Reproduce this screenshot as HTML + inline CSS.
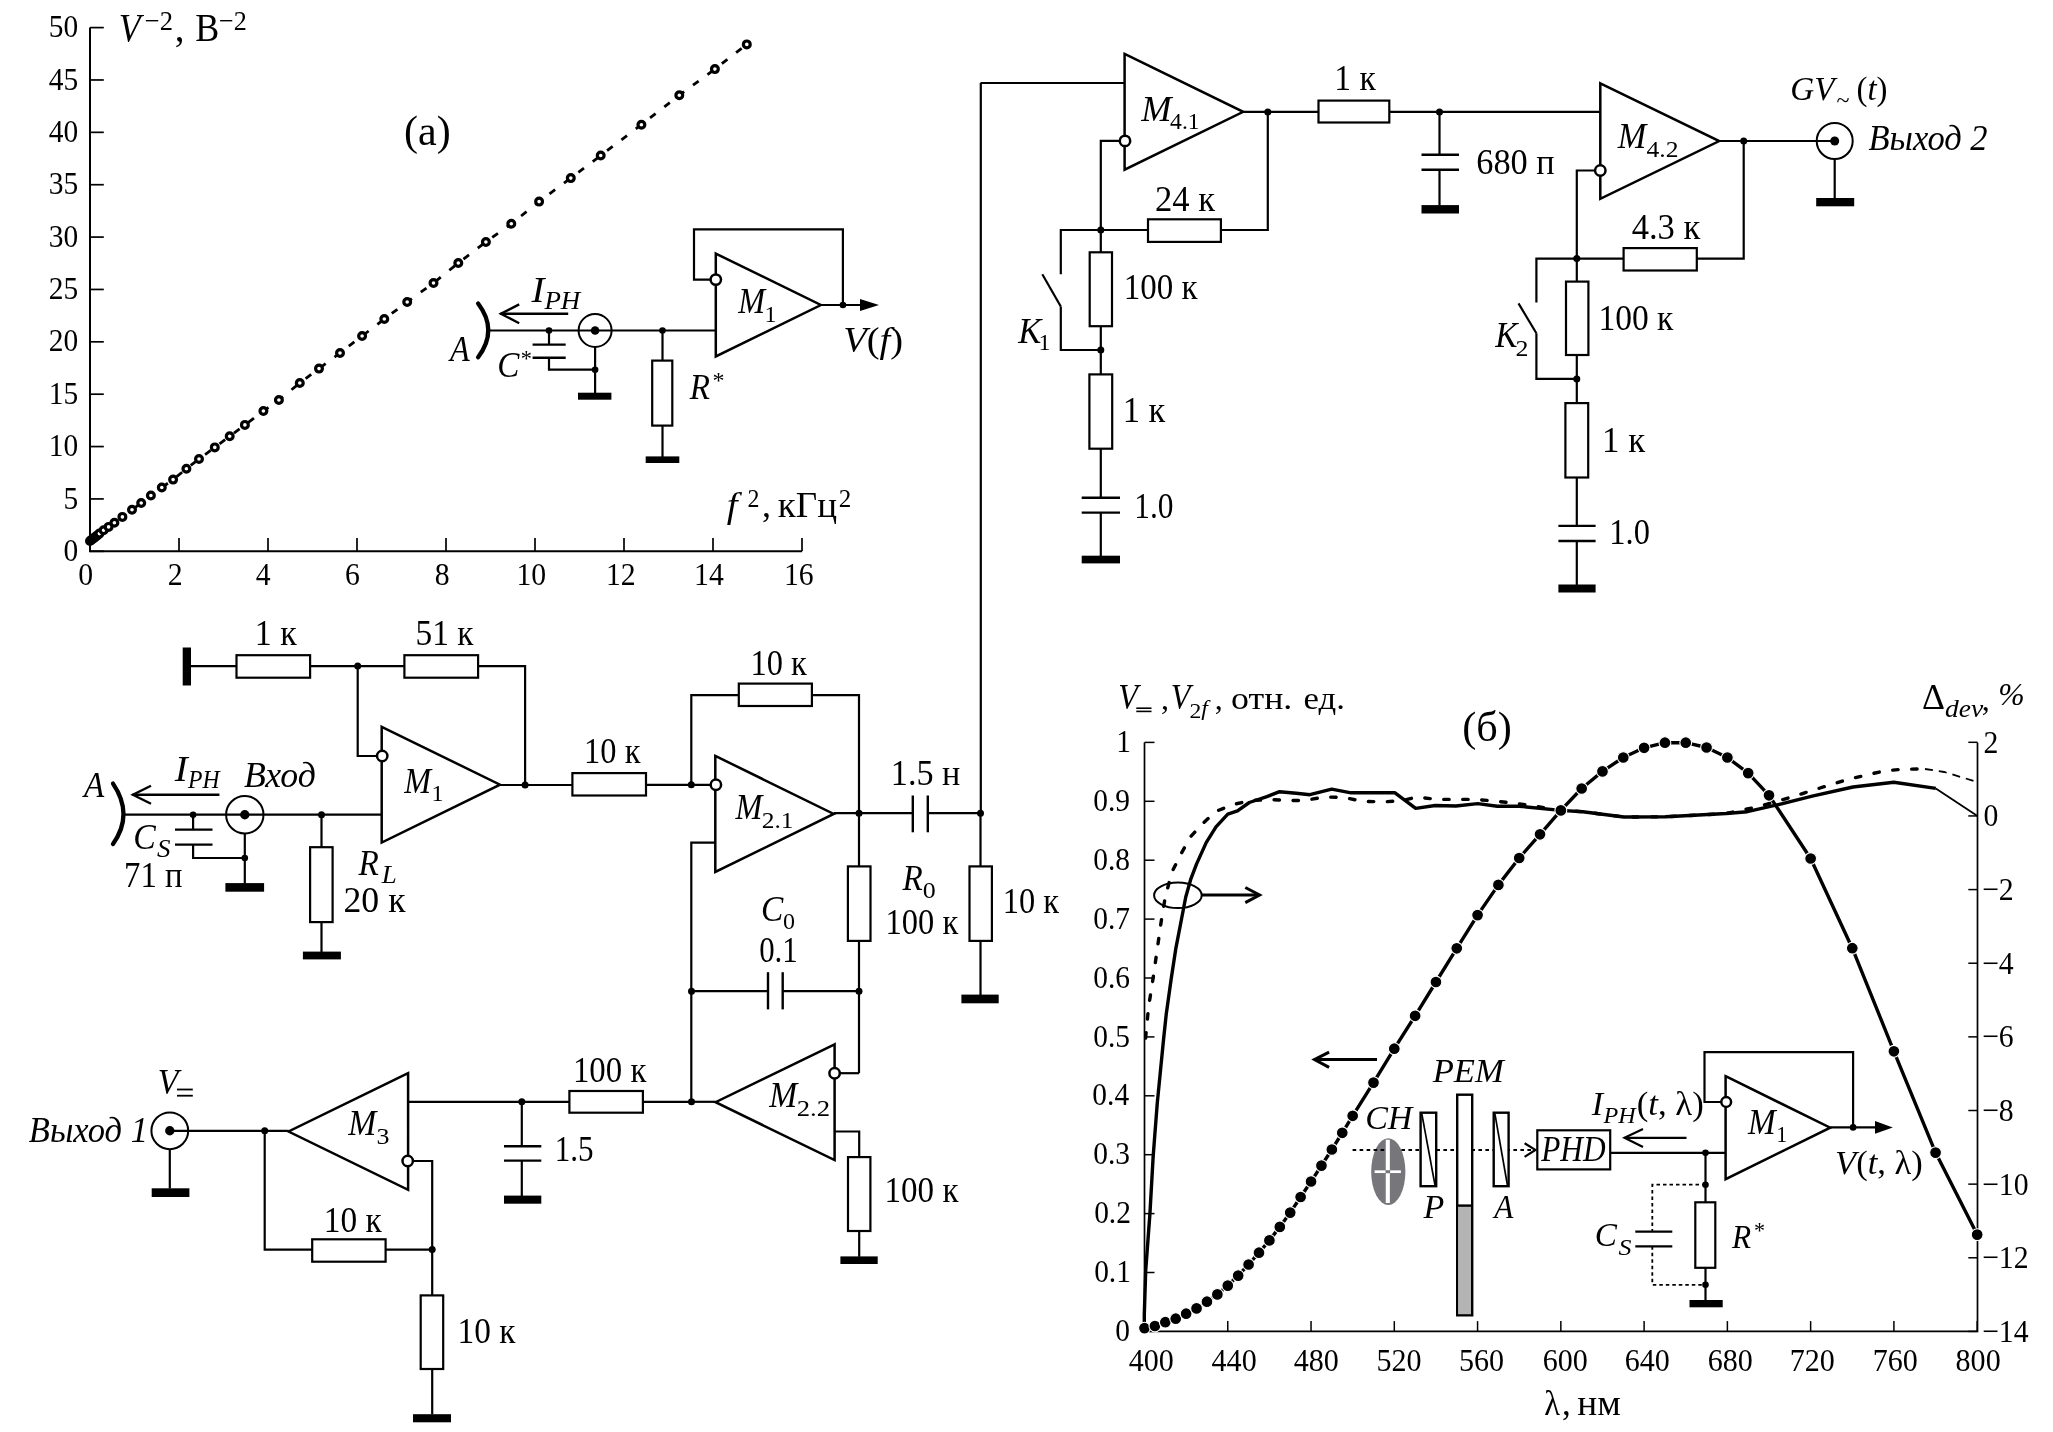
<!DOCTYPE html>
<html><head><meta charset="utf-8"><style>
html,body{margin:0;padding:0;background:#fff;}
svg{display:block;}
svg{will-change:transform;}
</style></head><body>
<svg width="2053" height="1432" viewBox="0 0 2053 1432">
<rect width="2053" height="1432" fill="#fff"/>
<g stroke="#000" stroke-linecap="butt" fill="none">
<polyline points="90,27.6 90,551.3 802,551.3" stroke-width="2.0" />
<line x1="90" y1="551.3" x2="103.8" y2="551.3" stroke-width="1.7" />
<line x1="90" y1="498.93" x2="103.8" y2="498.93" stroke-width="1.7" />
<line x1="90" y1="446.56" x2="103.8" y2="446.56" stroke-width="1.7" />
<line x1="90" y1="394.19" x2="103.8" y2="394.19" stroke-width="1.7" />
<line x1="90" y1="341.82" x2="103.8" y2="341.82" stroke-width="1.7" />
<line x1="90" y1="289.45" x2="103.8" y2="289.45" stroke-width="1.7" />
<line x1="90" y1="237.08" x2="103.8" y2="237.08" stroke-width="1.7" />
<line x1="90" y1="184.71" x2="103.8" y2="184.71" stroke-width="1.7" />
<line x1="90" y1="132.34" x2="103.8" y2="132.34" stroke-width="1.7" />
<line x1="90" y1="79.97" x2="103.8" y2="79.97" stroke-width="1.7" />
<line x1="90" y1="27.6" x2="103.8" y2="27.6" stroke-width="1.7" />
<line x1="90" y1="551.3" x2="90" y2="538" stroke-width="1.7" />
<line x1="179" y1="551.3" x2="179" y2="538" stroke-width="1.7" />
<line x1="268" y1="551.3" x2="268" y2="538" stroke-width="1.7" />
<line x1="357" y1="551.3" x2="357" y2="538" stroke-width="1.7" />
<line x1="446" y1="551.3" x2="446" y2="538" stroke-width="1.7" />
<line x1="535" y1="551.3" x2="535" y2="538" stroke-width="1.7" />
<line x1="624" y1="551.3" x2="624" y2="538" stroke-width="1.7" />
<line x1="713" y1="551.3" x2="713" y2="538" stroke-width="1.7" />
<line x1="802" y1="551.3" x2="802" y2="538" stroke-width="1.7" />
<polyline points="90,541 91.3,540 92.6,539 94,538 95.5,536.8 97.3,535.4 99.4,533.6 103.6,530.3 108.6,526.9 114.4,522.7 122.4,516.9 132,509.7 141.2,503 150.9,495.5 161.8,487.5 173.1,479.6 186.4,468.7 199,459 214.8,447.4 229.7,436.2 244.9,424.9 263.4,411 278.9,400 299.8,383 319,368.6 340,353 362.1,336 384.3,319 407.2,302 433.5,283 458.3,263 485.9,242 511.3,223.8 539.1,201.6 570.8,178.1 600.7,155.5 641.4,124.7 679.3,95.3 714.9,69.1 746.8,44.4" stroke-width="2.8" stroke-dasharray="7 11"/>
<circle cx="90" cy="541" r="3.4" stroke-width="3.2" fill="#fff"/>
<circle cx="91.3" cy="540" r="3.4" stroke-width="3.2" fill="#fff"/>
<circle cx="92.6" cy="539" r="3.4" stroke-width="3.2" fill="#fff"/>
<circle cx="94" cy="538" r="3.4" stroke-width="3.2" fill="#fff"/>
<circle cx="95.5" cy="536.8" r="3.4" stroke-width="3.2" fill="#fff"/>
<circle cx="97.3" cy="535.4" r="3.4" stroke-width="3.2" fill="#fff"/>
<circle cx="99.4" cy="533.6" r="3.4" stroke-width="3.2" fill="#fff"/>
<circle cx="103.6" cy="530.3" r="3.4" stroke-width="3.2" fill="#fff"/>
<circle cx="108.6" cy="526.9" r="3.4" stroke-width="3.2" fill="#fff"/>
<circle cx="114.4" cy="522.7" r="3.4" stroke-width="3.2" fill="#fff"/>
<circle cx="122.4" cy="516.9" r="3.4" stroke-width="3.2" fill="#fff"/>
<circle cx="132" cy="509.7" r="3.4" stroke-width="3.2" fill="#fff"/>
<circle cx="141.2" cy="503" r="3.4" stroke-width="3.2" fill="#fff"/>
<circle cx="150.9" cy="495.5" r="3.4" stroke-width="3.2" fill="#fff"/>
<circle cx="161.8" cy="487.5" r="3.4" stroke-width="3.2" fill="#fff"/>
<circle cx="173.1" cy="479.6" r="3.4" stroke-width="3.2" fill="#fff"/>
<circle cx="186.4" cy="468.7" r="3.4" stroke-width="3.2" fill="#fff"/>
<circle cx="199" cy="459" r="3.4" stroke-width="3.2" fill="#fff"/>
<circle cx="214.8" cy="447.4" r="3.4" stroke-width="3.2" fill="#fff"/>
<circle cx="229.7" cy="436.2" r="3.4" stroke-width="3.2" fill="#fff"/>
<circle cx="244.9" cy="424.9" r="3.4" stroke-width="3.2" fill="#fff"/>
<circle cx="263.4" cy="411" r="3.4" stroke-width="3.2" fill="#fff"/>
<circle cx="278.9" cy="400" r="3.4" stroke-width="3.2" fill="#fff"/>
<circle cx="299.8" cy="383" r="3.4" stroke-width="3.2" fill="#fff"/>
<circle cx="319" cy="368.6" r="3.4" stroke-width="3.2" fill="#fff"/>
<circle cx="340" cy="353" r="3.4" stroke-width="3.2" fill="#fff"/>
<circle cx="362.1" cy="336" r="3.4" stroke-width="3.2" fill="#fff"/>
<circle cx="384.3" cy="319" r="3.4" stroke-width="3.2" fill="#fff"/>
<circle cx="407.2" cy="302" r="3.4" stroke-width="3.2" fill="#fff"/>
<circle cx="433.5" cy="283" r="3.4" stroke-width="3.2" fill="#fff"/>
<circle cx="458.3" cy="263" r="3.4" stroke-width="3.2" fill="#fff"/>
<circle cx="485.9" cy="242" r="3.4" stroke-width="3.2" fill="#fff"/>
<circle cx="511.3" cy="223.8" r="3.4" stroke-width="3.2" fill="#fff"/>
<circle cx="539.1" cy="201.6" r="3.4" stroke-width="3.2" fill="#fff"/>
<circle cx="570.8" cy="178.1" r="3.4" stroke-width="3.2" fill="#fff"/>
<circle cx="600.7" cy="155.5" r="3.4" stroke-width="3.2" fill="#fff"/>
<circle cx="641.4" cy="124.7" r="3.4" stroke-width="3.2" fill="#fff"/>
<circle cx="679.3" cy="95.3" r="3.4" stroke-width="3.2" fill="#fff"/>
<circle cx="714.9" cy="69.1" r="3.4" stroke-width="3.2" fill="#fff"/>
<circle cx="746.8" cy="44.4" r="3.4" stroke-width="3.2" fill="#fff"/>
<path d="M842.9,305 V229.3 H694 V279.6 H710.5" stroke-width="2.2" fill="none" />
<polygon points="715.8,253.6 820.8,305 715.8,356.4" stroke-width="2.5" fill="none" />
<circle cx="715.8" cy="279.6" r="5.2" stroke-width="2.5" fill="#fff"/>
<line x1="820.8" y1="305" x2="862" y2="305" stroke-width="2.2" />
<polygon points="879,305 860,299 860,311" stroke-width="0" fill="#000" />
<circle cx="842.9" cy="305" r="3.3" fill="#000" stroke="none"/>
<line x1="488" y1="330.5" x2="715.8" y2="330.5" stroke-width="2.2" />
<path d="M478.1,303.5 Q498.5,330.4 478.1,357.2" stroke-width="4.3" fill="none" stroke-linecap="round"/>
<line x1="500.4" y1="313.8" x2="568.2" y2="313.8" stroke-width="2.4" />
<polyline points="519.2,304.4 500.9,313.8 519.2,323.2" stroke-width="2.4" />
<circle cx="549" cy="330.5" r="3.3" fill="#000" stroke="none"/>
<line x1="549" y1="330.5" x2="549" y2="344.6" stroke-width="2.2" />
<line x1="532.6" y1="344.6" x2="565.7" y2="344.6" stroke-width="2.4" />
<line x1="532.6" y1="357.8" x2="565.7" y2="357.8" stroke-width="2.4" />
<polyline points="549,357.8 549,369.7 595.1,369.7" stroke-width="2.2" />
<circle cx="595.1" cy="369.7" r="3.3" fill="#000" stroke="none"/>
<circle cx="595.1" cy="330.5" r="16.5" stroke-width="2.0" fill="none"/>
<circle cx="595.1" cy="330.5" r="4.3" fill="#000" stroke="none"/>
<line x1="595.1" y1="347" x2="595.1" y2="393" stroke-width="2.2" />
<rect x="578" y="392.7" width="33.4" height="7" stroke="none" fill="#000"/>
<circle cx="662.5" cy="330.5" r="3.3" fill="#000" stroke="none"/>
<line x1="662.5" y1="330.5" x2="662.5" y2="360.6" stroke-width="2.2" />
<rect x="652.2" y="360.6" width="20.1" height="65" stroke-width="2.2" fill="#fff"/>
<line x1="662.5" y1="425.6" x2="662.5" y2="457" stroke-width="2.2" />
<rect x="645.7" y="456.4" width="33.6" height="6.6" stroke="none" fill="#000"/>
<line x1="980.8" y1="83" x2="980.8" y2="813.2" stroke-width="2.2" />
<line x1="980.5" y1="83" x2="1124.6" y2="83" stroke-width="2.2" />
<polygon points="1124.6,53.9 1243.2,111.8 1124.6,169.7" stroke-width="2.5" fill="none" />
<circle cx="1125" cy="140.9" r="5.2" stroke-width="2.5" fill="#fff"/>
<polyline points="1119.8,140.9 1100.8,140.9 1100.8,252.3" stroke-width="2.2" />
<line x1="1243.2" y1="111.9" x2="1318.5" y2="111.9" stroke-width="2.2" />
<rect x="1318.5" y="100.6" width="70.8" height="21.9" stroke-width="2.2" fill="#fff"/>
<line x1="1389.3" y1="111.9" x2="1600.3" y2="111.9" stroke-width="2.2" />
<circle cx="1267.8" cy="111.9" r="3.5" fill="#000" stroke="none"/>
<circle cx="1439.5" cy="111.9" r="3.5" fill="#000" stroke="none"/>
<polyline points="1267.8,111.9 1267.8,230 1220.9,230" stroke-width="2.2" />
<rect x="1148" y="219.3" width="72.9" height="22.6" stroke-width="2.2" fill="#fff"/>
<polyline points="1148,230 1060.8,230 1060.8,274.3" stroke-width="2.2" />
<circle cx="1100.8" cy="230" r="3.5" fill="#000" stroke="none"/>
<line x1="1042.3" y1="274.3" x2="1060.8" y2="306.5" stroke-width="2.2" />
<polyline points="1060.8,306.5 1060.8,350 1100.8,350" stroke-width="2.2" />
<rect x="1089.7" y="252.3" width="22.3" height="73.9" stroke-width="2.2" fill="#fff"/>
<line x1="1100.8" y1="326.2" x2="1100.8" y2="374.4" stroke-width="2.2" />
<circle cx="1100.8" cy="350" r="3.5" fill="#000" stroke="none"/>
<rect x="1089.4" y="374.4" width="22.8" height="74.3" stroke-width="2.2" fill="#fff"/>
<line x1="1100.8" y1="448.7" x2="1100.8" y2="497.8" stroke-width="2.2" />
<line x1="1081.7" y1="497.8" x2="1120" y2="497.8" stroke-width="2.4" />
<line x1="1081.7" y1="512.6" x2="1120" y2="512.6" stroke-width="2.4" />
<line x1="1100.8" y1="512.6" x2="1100.8" y2="556" stroke-width="2.2" />
<rect x="1081.7" y="555.7" width="38.3" height="7.7" stroke="none" fill="#000"/>
<line x1="1439.5" y1="111.9" x2="1439.5" y2="154.7" stroke-width="2.2" />
<line x1="1421.5" y1="154.7" x2="1459" y2="154.7" stroke-width="2.4" />
<line x1="1421.5" y1="169.7" x2="1459" y2="169.7" stroke-width="2.4" />
<line x1="1439.5" y1="169.7" x2="1439.5" y2="205.5" stroke-width="2.2" />
<rect x="1421.5" y="205.1" width="37.5" height="8.4" stroke="none" fill="#000"/>
<polygon points="1600.3,83.3 1719.2,141.05 1600.3,198.8" stroke-width="2.5" fill="none" />
<circle cx="1600.3" cy="170.5" r="5.2" stroke-width="2.5" fill="#fff"/>
<polyline points="1595.1,170.5 1576.8,170.5 1576.8,281.6" stroke-width="2.2" />
<line x1="1719.2" y1="141" x2="1834.7" y2="141" stroke-width="2.2" />
<circle cx="1743.7" cy="141" r="3.5" fill="#000" stroke="none"/>
<circle cx="1834.7" cy="141" r="18" stroke-width="2.0" fill="none"/>
<circle cx="1834.7" cy="141" r="4.5" fill="#000" stroke="none"/>
<line x1="1834.7" y1="159" x2="1834.7" y2="198.5" stroke-width="2.2" />
<rect x="1816.2" y="198" width="38" height="8.3" stroke="none" fill="#000"/>
<polyline points="1743.7,141 1743.7,258.6 1696.8,258.6" stroke-width="2.2" />
<rect x="1623.6" y="248.1" width="73.2" height="22.4" stroke-width="2.2" fill="#fff"/>
<polyline points="1623.6,258.6 1536.4,258.6 1536.4,302.5" stroke-width="2.2" />
<circle cx="1576.8" cy="258.6" r="3.5" fill="#000" stroke="none"/>
<line x1="1518.5" y1="303.4" x2="1536.4" y2="333.2" stroke-width="2.2" />
<polyline points="1536.4,333.2 1536.4,378.9 1576.8,378.9" stroke-width="2.2" />
<rect x="1566" y="281.6" width="22.4" height="73.4" stroke-width="2.2" fill="#fff"/>
<line x1="1576.8" y1="355" x2="1576.8" y2="403.1" stroke-width="2.2" />
<circle cx="1576.8" cy="378.9" r="3.5" fill="#000" stroke="none"/>
<rect x="1565.4" y="403.1" width="22.8" height="74.4" stroke-width="2.2" fill="#fff"/>
<line x1="1576.8" y1="477.5" x2="1576.8" y2="525.9" stroke-width="2.2" />
<line x1="1558.4" y1="525.9" x2="1595.6" y2="525.9" stroke-width="2.4" />
<line x1="1558.4" y1="541" x2="1595.6" y2="541" stroke-width="2.4" />
<line x1="1576.8" y1="541" x2="1576.8" y2="585" stroke-width="2.2" />
<rect x="1558.4" y="584.5" width="37.2" height="8" stroke="none" fill="#000"/>
<rect x="182.7" y="647.5" width="8.3" height="38" stroke="none" fill="#000"/>
<line x1="191" y1="666.1" x2="236.5" y2="666.1" stroke-width="2.2" />
<rect x="236.5" y="655.2" width="73.6" height="22.5" stroke-width="2.2" fill="#fff"/>
<line x1="310.1" y1="666.1" x2="404.4" y2="666.1" stroke-width="2.2" />
<circle cx="357.7" cy="666.1" r="3.5" fill="#000" stroke="none"/>
<rect x="404.4" y="655.2" width="73.7" height="22.5" stroke-width="2.2" fill="#fff"/>
<polyline points="478.1,666.1 525.1,666.1 525.1,785" stroke-width="2.2" />
<polyline points="357.7,666.1 357.7,756 377,756" stroke-width="2.2" />
<polygon points="381.7,726.8 500,784.7 381.7,842.6" stroke-width="2.5" fill="none" />
<circle cx="382.2" cy="756" r="5.2" stroke-width="2.5" fill="#fff"/>
<line x1="500" y1="785" x2="572.4" y2="785" stroke-width="2.2" />
<circle cx="525.1" cy="785" r="3.5" fill="#000" stroke="none"/>
<rect x="572.4" y="773.1" width="73.6" height="22.4" stroke-width="2.2" fill="#fff"/>
<line x1="646" y1="784.8" x2="710.7" y2="784.8" stroke-width="2.2" />
<circle cx="691.3" cy="784.8" r="3.5" fill="#000" stroke="none"/>
<line x1="124" y1="814.7" x2="381.7" y2="814.7" stroke-width="2.2" />
<path d="M113,783.6 Q134,814.5 113,843.9" stroke-width="4.3" fill="none" stroke-linecap="round"/>
<line x1="132.4" y1="794.8" x2="219.4" y2="794.8" stroke-width="2.4" />
<polyline points="151,785.7 132.9,794.8 151,803.8" stroke-width="2.4" />
<circle cx="193.1" cy="814.7" r="3.3" fill="#000" stroke="none"/>
<line x1="193.1" y1="814.7" x2="193.1" y2="829.6" stroke-width="2.2" />
<line x1="175" y1="829.6" x2="212.5" y2="829.6" stroke-width="2.4" />
<line x1="175" y1="844.6" x2="212.5" y2="844.6" stroke-width="2.4" />
<polyline points="193.1,844.6 193.1,858 244.8,858" stroke-width="2.2" />
<circle cx="244.8" cy="858" r="3.3" fill="#000" stroke="none"/>
<circle cx="244.8" cy="814.7" r="18.7" stroke-width="2.0" fill="none"/>
<circle cx="244.8" cy="814.7" r="4.7" fill="#000" stroke="none"/>
<line x1="244.8" y1="833.4" x2="244.8" y2="883.5" stroke-width="2.2" />
<rect x="225.4" y="883.1" width="38.7" height="8.6" stroke="none" fill="#000"/>
<circle cx="321.5" cy="814.7" r="3.5" fill="#000" stroke="none"/>
<line x1="321.5" y1="814.7" x2="321.5" y2="847.2" stroke-width="2.2" />
<rect x="310.1" y="847.2" width="22.5" height="74.9" stroke-width="2.2" fill="#fff"/>
<line x1="321.5" y1="922.1" x2="321.5" y2="952" stroke-width="2.2" />
<rect x="302.9" y="951.6" width="38" height="7.8" stroke="none" fill="#000"/>
<polyline points="691.3,784.8 691.3,695.1 738.8,695.1" stroke-width="2.2" />
<rect x="738.8" y="683.6" width="73.1" height="22.4" stroke-width="2.2" fill="#fff"/>
<polyline points="811.9,695.1 859,695.1 859,866.4" stroke-width="2.2" />
<polygon points="715.3,755.9 833.7,813.9 715.3,871.9" stroke-width="2.5" fill="none" />
<circle cx="715.9" cy="784.8" r="5.2" stroke-width="2.5" fill="#fff"/>
<polyline points="715.3,842.7 691.3,842.7 691.3,1101.8" stroke-width="2.2" />
<line x1="833.7" y1="813.2" x2="912.8" y2="813.2" stroke-width="2.2" />
<circle cx="859" cy="813.2" r="3.5" fill="#000" stroke="none"/>
<line x1="912.8" y1="795.5" x2="912.8" y2="832.3" stroke-width="2.4" />
<line x1="927.8" y1="795.5" x2="927.8" y2="832.3" stroke-width="2.4" />
<line x1="927.8" y1="813.2" x2="980.5" y2="813.2" stroke-width="2.2" />
<circle cx="980.5" cy="813.2" r="3.5" fill="#000" stroke="none"/>
<rect x="847.9" y="866.4" width="22.6" height="74.5" stroke-width="2.2" fill="#fff"/>
<line x1="859" y1="940.9" x2="859" y2="1073.2" stroke-width="2.2" />
<line x1="980.5" y1="813.2" x2="980.5" y2="866.4" stroke-width="2.2" />
<rect x="969.5" y="866.4" width="22.4" height="74.5" stroke-width="2.2" fill="#fff"/>
<line x1="980.5" y1="940.9" x2="980.5" y2="995" stroke-width="2.2" />
<rect x="961.4" y="994.6" width="37.3" height="8.7" stroke="none" fill="#000"/>
<line x1="691.5" y1="991.2" x2="768" y2="991.2" stroke-width="2.2" />
<line x1="782.7" y1="991.2" x2="859" y2="991.2" stroke-width="2.2" />
<line x1="768" y1="972.2" x2="768" y2="1009.4" stroke-width="2.4" />
<line x1="782.7" y1="972.2" x2="782.7" y2="1009.4" stroke-width="2.4" />
<circle cx="691.5" cy="991.2" r="3.5" fill="#000" stroke="none"/>
<circle cx="859" cy="991.2" r="3.5" fill="#000" stroke="none"/>
<polygon points="834.6,1044.3 715.6,1102.2 834.6,1160.1" stroke-width="2.5" fill="none" />
<line x1="691.5" y1="1101.8" x2="715.6" y2="1101.8" stroke-width="2.2" />
<circle cx="691.5" cy="1101.8" r="3.5" fill="#000" stroke="none"/>
<circle cx="834.6" cy="1073.2" r="5.2" stroke-width="2.5" fill="#fff"/>
<line x1="839.8" y1="1073.2" x2="859" y2="1073.2" stroke-width="2.2" />
<polyline points="834.6,1131.5 859.2,1131.5 859.2,1157.1" stroke-width="2.2" />
<rect x="848" y="1157.1" width="22.4" height="73.9" stroke-width="2.2" fill="#fff"/>
<line x1="859.2" y1="1231" x2="859.2" y2="1256.8" stroke-width="2.2" />
<rect x="840.4" y="1256.4" width="37.3" height="7.6" stroke="none" fill="#000"/>
<rect x="569.4" y="1091" width="73.5" height="21.7" stroke-width="2.2" fill="#fff"/>
<line x1="642.9" y1="1101.8" x2="691.5" y2="1101.8" stroke-width="2.2" />
<line x1="408.1" y1="1101.8" x2="569.4" y2="1101.8" stroke-width="2.2" />
<circle cx="521.8" cy="1101.8" r="3.5" fill="#000" stroke="none"/>
<line x1="521.8" y1="1101.8" x2="521.8" y2="1146.2" stroke-width="2.2" />
<line x1="504" y1="1146.2" x2="541.3" y2="1146.2" stroke-width="2.4" />
<line x1="504" y1="1160.6" x2="541.3" y2="1160.6" stroke-width="2.4" />
<line x1="521.8" y1="1160.6" x2="521.8" y2="1196" stroke-width="2.2" />
<rect x="504" y="1195.6" width="37.3" height="8.1" stroke="none" fill="#000"/>
<circle cx="169.8" cy="1130.8" r="18.4" stroke-width="2.0" fill="none"/>
<circle cx="169.8" cy="1130.8" r="4.7" fill="#000" stroke="none"/>
<line x1="169.8" y1="1149.2" x2="169.8" y2="1188.6" stroke-width="2.2" />
<rect x="151.7" y="1188.3" width="37.7" height="8.7" stroke="none" fill="#000"/>
<line x1="169.8" y1="1130.8" x2="288.6" y2="1130.8" stroke-width="2.2" />
<circle cx="264.7" cy="1130.8" r="3.5" fill="#000" stroke="none"/>
<polygon points="408.1,1073.2 288.6,1131.5 408.1,1189.8" stroke-width="2.5" fill="none" />
<circle cx="407.7" cy="1161" r="5.2" stroke-width="2.5" fill="#fff"/>
<polyline points="412.9,1161 432.2,1161 432.2,1295.4" stroke-width="2.2" />
<circle cx="432.2" cy="1249.6" r="3.5" fill="#000" stroke="none"/>
<rect x="420.7" y="1295.4" width="22.5" height="73.6" stroke-width="2.2" fill="#fff"/>
<line x1="432.2" y1="1369" x2="432.2" y2="1414.5" stroke-width="2.2" />
<rect x="413" y="1414.2" width="38" height="8.1" stroke="none" fill="#000"/>
<polyline points="264.7,1130.8 264.7,1249.6 312.2,1249.6" stroke-width="2.2" />
<rect x="312.2" y="1239.3" width="73.4" height="22.4" stroke-width="2.2" fill="#fff"/>
<line x1="385.6" y1="1249.6" x2="432.2" y2="1249.6" stroke-width="2.2" />
<rect x="177" y="1088.6" width="15.8" height="1.8" stroke="none" fill="#000"/>
<rect x="177" y="1094.8" width="15.8" height="1.8" stroke="none" fill="#000"/>
<polyline points="1144.5,742.4 1144.5,1331.4 1977.5,1331.4 1977.5,742.4" stroke-width="1.7" />
<line x1="1144.5" y1="1331.4" x2="1154.5" y2="1331.4" stroke-width="1.5" />
<line x1="1144.5" y1="1272.5" x2="1154.5" y2="1272.5" stroke-width="1.5" />
<line x1="1144.5" y1="1213.6" x2="1154.5" y2="1213.6" stroke-width="1.5" />
<line x1="1144.5" y1="1154.7" x2="1154.5" y2="1154.7" stroke-width="1.5" />
<line x1="1144.5" y1="1095.8" x2="1154.5" y2="1095.8" stroke-width="1.5" />
<line x1="1144.5" y1="1036.9" x2="1154.5" y2="1036.9" stroke-width="1.5" />
<line x1="1144.5" y1="978" x2="1154.5" y2="978" stroke-width="1.5" />
<line x1="1144.5" y1="919.1" x2="1154.5" y2="919.1" stroke-width="1.5" />
<line x1="1144.5" y1="860.2" x2="1154.5" y2="860.2" stroke-width="1.5" />
<line x1="1144.5" y1="801.3" x2="1154.5" y2="801.3" stroke-width="1.5" />
<line x1="1144.5" y1="742.4" x2="1154.5" y2="742.4" stroke-width="1.5" />
<line x1="1968.3" y1="742.3" x2="1977.5" y2="742.3" stroke-width="1.5" />
<line x1="1968.3" y1="815.94" x2="1977.5" y2="815.94" stroke-width="1.5" />
<line x1="1968.3" y1="889.58" x2="1977.5" y2="889.58" stroke-width="1.5" />
<line x1="1968.3" y1="963.22" x2="1977.5" y2="963.22" stroke-width="1.5" />
<line x1="1968.3" y1="1036.86" x2="1977.5" y2="1036.86" stroke-width="1.5" />
<line x1="1968.3" y1="1110.5" x2="1977.5" y2="1110.5" stroke-width="1.5" />
<line x1="1968.3" y1="1184.14" x2="1977.5" y2="1184.14" stroke-width="1.5" />
<line x1="1968.3" y1="1257.78" x2="1977.5" y2="1257.78" stroke-width="1.5" />
<line x1="1968.3" y1="1331.42" x2="1977.5" y2="1331.42" stroke-width="1.5" />
<line x1="1144.5" y1="1331.4" x2="1144.5" y2="1321.1" stroke-width="1.5" />
<line x1="1227.77" y1="1331.4" x2="1227.77" y2="1321.1" stroke-width="1.5" />
<line x1="1311.04" y1="1331.4" x2="1311.04" y2="1321.1" stroke-width="1.5" />
<line x1="1394.3" y1="1331.4" x2="1394.3" y2="1321.1" stroke-width="1.5" />
<line x1="1477.57" y1="1331.4" x2="1477.57" y2="1321.1" stroke-width="1.5" />
<line x1="1560.84" y1="1331.4" x2="1560.84" y2="1321.1" stroke-width="1.5" />
<line x1="1644.11" y1="1331.4" x2="1644.11" y2="1321.1" stroke-width="1.5" />
<line x1="1727.38" y1="1331.4" x2="1727.38" y2="1321.1" stroke-width="1.5" />
<line x1="1810.64" y1="1331.4" x2="1810.64" y2="1321.1" stroke-width="1.5" />
<line x1="1893.91" y1="1331.4" x2="1893.91" y2="1321.1" stroke-width="1.5" />
<line x1="1977.18" y1="1331.4" x2="1977.18" y2="1321.1" stroke-width="1.5" />
<polyline points="1144.3,1329 1144.3,1314.6 1145.7,1270.6 1149.9,1214 1153.1,1157.4 1154.7,1136.4 1157.3,1102.9 1160.4,1071.4 1163.5,1040 1166.2,1014.6 1171.1,979.4 1175.9,948.1 1180.8,922.7 1185.7,897.3 1190.6,879.7 1196.5,864.1 1206.2,842.6 1216,826.9 1227.8,814.2 1237.5,810.9 1249.3,802.5 1266.9,796.6 1279.6,791.7 1296.2,793.3 1309.9,794.7 1331.7,789.2 1351.1,792.8 1395,792.8 1415.7,808.4 1435.2,805.5 1455.9,806 1477.8,803.6 1497.3,806.2 1519.2,806.2 1560.6,810.4 1582.8,811.7 1623.9,817 1665.3,816.8 1684.9,815.8 1726.2,813.5 1747.3,811.7 1773.7,805.7 1812.2,796.1 1853,787 1893.8,782.2 1935.8,788.4" stroke-width="3.4" stroke-linejoin="round"/>
<line x1="1935.8" y1="788.4" x2="1977.5" y2="815.9" stroke-width="1.8" />
<polyline points="1145.6,1038 1148.6,1006.8 1153.5,975.5 1157.4,948.1 1161.3,920.8 1165.2,897.3 1172,871.9 1180.8,854.3 1190.6,836.7 1202.3,824 1216,811.3 1233.6,804.4 1251.2,800.5 1270.8,799.6 1290.3,800.5 1303.7,800.6 1324.4,797 1343.8,797.5 1363.3,801.4 1385.2,801.8 1402.3,800.6 1416.9,797 1436.4,799.4 1475.4,799.4 1494.8,801.1 1514.3,803.1 1533.8,806 1560.6,810.4 1582.8,811.7 1623.9,817 1665.3,816.8 1684.9,815.8 1726.2,813.5 1757.9,806.7 1790.5,797.3 1820,788 1848.2,779.3 1884.2,770.9 1903.4,769.2 1925,769" stroke-width="3.4" stroke-dasharray="5.4 13.6" stroke-linecap="round"/>
<polyline points="1925,769 1944.2,772 1977.5,782" stroke-width="1.8" stroke-dasharray="8 6"/>
<polyline points="1144.5,1328.1 1154.91,1326 1165.32,1322.2 1175.73,1318.7 1186.13,1313.7 1196.54,1308.4 1206.95,1301.7 1217.36,1294.4 1227.77,1285.6 1238.18,1275.6 1248.59,1264.5 1258.99,1252.7 1269.4,1240.4 1279.81,1226.9 1290.22,1212.6 1300.63,1197 1311.04,1181.5 1321.44,1165.6 1331.85,1149.5 1342.26,1132.8 1352.67,1115.8 1373.49,1082.6 1394.3,1048.7 1415.12,1015.8 1435.94,982 1456.76,948.3 1477.57,915.1 1498.39,884.9 1519.21,858 1540.02,834.3 1560.84,810.4 1581.66,788.5 1602.47,771.4 1623.29,757.5 1644.11,747.8 1664.93,742.7 1685.74,742.7 1706.56,747.5 1727.38,757.5 1748.19,773.1 1769.01,795.3 1810.64,858.5 1852.28,948.2 1893.91,1051.3 1935.55,1152.6 1977.18,1234.6" stroke-width="3.4" stroke-linejoin="round"/>
<circle cx="1144.5" cy="1328.1" r="5.9" fill="#000" stroke="#fff" stroke-width="1.1"/>
<circle cx="1154.91" cy="1326" r="5.9" fill="#000" stroke="#fff" stroke-width="1.1"/>
<circle cx="1165.32" cy="1322.2" r="5.9" fill="#000" stroke="#fff" stroke-width="1.1"/>
<circle cx="1175.73" cy="1318.7" r="5.9" fill="#000" stroke="#fff" stroke-width="1.1"/>
<circle cx="1186.13" cy="1313.7" r="5.9" fill="#000" stroke="#fff" stroke-width="1.1"/>
<circle cx="1196.54" cy="1308.4" r="5.9" fill="#000" stroke="#fff" stroke-width="1.1"/>
<circle cx="1206.95" cy="1301.7" r="5.9" fill="#000" stroke="#fff" stroke-width="1.1"/>
<circle cx="1217.36" cy="1294.4" r="5.9" fill="#000" stroke="#fff" stroke-width="1.1"/>
<circle cx="1227.77" cy="1285.6" r="5.9" fill="#000" stroke="#fff" stroke-width="1.1"/>
<circle cx="1238.18" cy="1275.6" r="5.9" fill="#000" stroke="#fff" stroke-width="1.1"/>
<circle cx="1248.59" cy="1264.5" r="5.9" fill="#000" stroke="#fff" stroke-width="1.1"/>
<circle cx="1258.99" cy="1252.7" r="5.9" fill="#000" stroke="#fff" stroke-width="1.1"/>
<circle cx="1269.4" cy="1240.4" r="5.9" fill="#000" stroke="#fff" stroke-width="1.1"/>
<circle cx="1279.81" cy="1226.9" r="5.9" fill="#000" stroke="#fff" stroke-width="1.1"/>
<circle cx="1290.22" cy="1212.6" r="5.9" fill="#000" stroke="#fff" stroke-width="1.1"/>
<circle cx="1300.63" cy="1197" r="5.9" fill="#000" stroke="#fff" stroke-width="1.1"/>
<circle cx="1311.04" cy="1181.5" r="5.9" fill="#000" stroke="#fff" stroke-width="1.1"/>
<circle cx="1321.44" cy="1165.6" r="5.9" fill="#000" stroke="#fff" stroke-width="1.1"/>
<circle cx="1331.85" cy="1149.5" r="5.9" fill="#000" stroke="#fff" stroke-width="1.1"/>
<circle cx="1342.26" cy="1132.8" r="5.9" fill="#000" stroke="#fff" stroke-width="1.1"/>
<circle cx="1352.67" cy="1115.8" r="5.9" fill="#000" stroke="#fff" stroke-width="1.1"/>
<circle cx="1373.49" cy="1082.6" r="5.9" fill="#000" stroke="#fff" stroke-width="1.1"/>
<circle cx="1394.3" cy="1048.7" r="5.9" fill="#000" stroke="#fff" stroke-width="1.1"/>
<circle cx="1415.12" cy="1015.8" r="5.9" fill="#000" stroke="#fff" stroke-width="1.1"/>
<circle cx="1435.94" cy="982" r="5.9" fill="#000" stroke="#fff" stroke-width="1.1"/>
<circle cx="1456.76" cy="948.3" r="5.9" fill="#000" stroke="#fff" stroke-width="1.1"/>
<circle cx="1477.57" cy="915.1" r="5.9" fill="#000" stroke="#fff" stroke-width="1.1"/>
<circle cx="1498.39" cy="884.9" r="5.9" fill="#000" stroke="#fff" stroke-width="1.1"/>
<circle cx="1519.21" cy="858" r="5.9" fill="#000" stroke="#fff" stroke-width="1.1"/>
<circle cx="1540.02" cy="834.3" r="5.9" fill="#000" stroke="#fff" stroke-width="1.1"/>
<circle cx="1560.84" cy="810.4" r="5.9" fill="#000" stroke="#fff" stroke-width="1.1"/>
<circle cx="1581.66" cy="788.5" r="5.9" fill="#000" stroke="#fff" stroke-width="1.1"/>
<circle cx="1602.47" cy="771.4" r="5.9" fill="#000" stroke="#fff" stroke-width="1.1"/>
<circle cx="1623.29" cy="757.5" r="5.9" fill="#000" stroke="#fff" stroke-width="1.1"/>
<circle cx="1644.11" cy="747.8" r="5.9" fill="#000" stroke="#fff" stroke-width="1.1"/>
<circle cx="1664.93" cy="742.7" r="5.9" fill="#000" stroke="#fff" stroke-width="1.1"/>
<circle cx="1685.74" cy="742.7" r="5.9" fill="#000" stroke="#fff" stroke-width="1.1"/>
<circle cx="1706.56" cy="747.5" r="5.9" fill="#000" stroke="#fff" stroke-width="1.1"/>
<circle cx="1727.38" cy="757.5" r="5.9" fill="#000" stroke="#fff" stroke-width="1.1"/>
<circle cx="1748.19" cy="773.1" r="5.9" fill="#000" stroke="#fff" stroke-width="1.1"/>
<circle cx="1769.01" cy="795.3" r="5.9" fill="#000" stroke="#fff" stroke-width="1.1"/>
<circle cx="1810.64" cy="858.5" r="5.9" fill="#000" stroke="#fff" stroke-width="1.1"/>
<circle cx="1852.28" cy="948.2" r="5.9" fill="#000" stroke="#fff" stroke-width="1.1"/>
<circle cx="1893.91" cy="1051.3" r="5.9" fill="#000" stroke="#fff" stroke-width="1.1"/>
<circle cx="1935.55" cy="1152.6" r="5.9" fill="#000" stroke="#fff" stroke-width="1.1"/>
<circle cx="1977.18" cy="1234.6" r="5.9" fill="#000" stroke="#fff" stroke-width="1.1"/>
<ellipse cx="1177.9" cy="895.3" rx="23.8" ry="12.7" stroke-width="2"/>
<line x1="1201.4" y1="895" x2="1259" y2="895" stroke-width="3.0" />
<polyline points="1245.3,887.5 1259.6,895 1245.3,902.6" stroke-width="3.0" />
<line x1="1377" y1="1059.6" x2="1315" y2="1059.6" stroke-width="3.0" />
<polyline points="1329.1,1052.1 1314.5,1059.6 1329.1,1067.4" stroke-width="3.0" />
<rect x="1136.3" y="707.4" width="15.2" height="1.6" stroke="none" fill="#000"/>
<rect x="1136.3" y="710.6" width="15.2" height="1.6" stroke="none" fill="#000"/>
<ellipse cx="1388.3" cy="1171.7" rx="17.1" ry="33.4" fill="#77777b" stroke="none"/>
<line x1="1387.8" y1="1139.7" x2="1387.8" y2="1170.2" stroke-width="4.1" stroke="#fff"/>
<line x1="1387.8" y1="1173.2" x2="1387.8" y2="1203" stroke-width="4.1" stroke="#fff"/>
<line x1="1374.6" y1="1171.7" x2="1385.5" y2="1171.7" stroke-width="2.7" stroke="#fff"/>
<line x1="1390.1" y1="1171.7" x2="1400.9" y2="1171.7" stroke-width="2.7" stroke="#fff"/>
<line x1="1352.6" y1="1149.9" x2="1386" y2="1149.9" stroke-width="2.0" stroke-dasharray="3.6 3.4"/>
<line x1="1401.4" y1="1149.9" x2="1534" y2="1149.9" stroke-width="2.0" stroke-dasharray="3.6 3.4"/>
<polyline points="1524.6,1143.2 1535.4,1149.9 1524.6,1156.9" stroke-width="2.2" />
<rect x="1457.2" y="1094.7" width="15" height="220.6" stroke-width="2.4" fill="#fff"/>
<rect x="1458.4" y="1205.6" width="12.6" height="108.5" stroke="none" fill="#b4b4b4"/>
<line x1="1457.2" y1="1205.6" x2="1472.2" y2="1205.6" stroke-width="2.4" />
<rect x="1420.6" y="1112.7" width="15.6" height="73.5" stroke-width="2.4" fill="#fff"/>
<line x1="1421.8" y1="1113.9" x2="1435" y2="1185" stroke-width="1.7" />
<rect x="1493.7" y="1112.7" width="14.9" height="73.5" stroke-width="2.4" fill="#fff"/>
<line x1="1494.9" y1="1113.9" x2="1507.4" y2="1185" stroke-width="1.7" />
<rect x="1537.3" y="1130.3" width="72.9" height="39.1" stroke-width="2.2" fill="#fff"/>
<line x1="1610.2" y1="1152.8" x2="1725.6" y2="1152.8" stroke-width="2.2" />
<circle cx="1705.5" cy="1152.8" r="3.3" fill="#000" stroke="none"/>
<line x1="1705.5" y1="1152.8" x2="1705.5" y2="1202.3" stroke-width="2.2" />
<circle cx="1705.5" cy="1184.7" r="3.3" fill="#000" stroke="none"/>
<rect x="1695.3" y="1202.3" width="20" height="65.5" stroke-width="2.2" fill="#fff"/>
<line x1="1705.5" y1="1267.8" x2="1705.5" y2="1300.5" stroke-width="2.2" />
<circle cx="1705.5" cy="1284.8" r="3.3" fill="#000" stroke="none"/>
<rect x="1689.5" y="1300" width="33.2" height="7.3" stroke="none" fill="#000"/>
<polyline points="1705.5,1184.7 1652.3,1184.7 1652.3,1231.6" stroke-width="1.8" stroke-dasharray="3.5 3"/>
<polyline points="1652.3,1246.3 1652.3,1284.8 1705.5,1284.8" stroke-width="1.8" stroke-dasharray="3.5 3"/>
<line x1="1635.3" y1="1231.6" x2="1672.3" y2="1231.6" stroke-width="2.2" />
<line x1="1635.3" y1="1246.3" x2="1672.3" y2="1246.3" stroke-width="2.2" />
<line x1="1686.5" y1="1137.8" x2="1624.5" y2="1137.8" stroke-width="2.2" />
<polyline points="1643,1129 1624.5,1137.8 1643,1147.1" stroke-width="2.2" />
<polygon points="1725.6,1076.2 1830.2,1127.7 1725.6,1179.2" stroke-width="2.5" fill="none" />
<path d="M1853.1,1127.4 V1052.1 H1704.5 V1102 H1721.3" stroke-width="2.2" fill="none" />
<circle cx="1726.2" cy="1102" r="4.9" stroke-width="2.5" fill="#fff"/>
<line x1="1830.2" y1="1127.4" x2="1876" y2="1127.4" stroke-width="2.2" />
<circle cx="1853.1" cy="1127.4" r="3.3" fill="#000" stroke="none"/>
<polygon points="1892.8,1127.4 1875,1121 1875,1133.8" stroke-width="0" fill="#000" />
</g>
<g font-family="Liberation Serif" fill="#000">
<text x="63.4" y="560.9" font-size="32" textLength="14.72" lengthAdjust="spacingAndGlyphs">0</text>
<text x="63.4" y="508.53" font-size="32" textLength="14.72" lengthAdjust="spacingAndGlyphs">5</text>
<text x="48.68" y="456.16" font-size="32" textLength="29.44" lengthAdjust="spacingAndGlyphs">10</text>
<text x="48.68" y="403.79" font-size="32" textLength="29.44" lengthAdjust="spacingAndGlyphs">15</text>
<text x="48.68" y="351.42" font-size="32" textLength="29.44" lengthAdjust="spacingAndGlyphs">20</text>
<text x="48.68" y="299.05" font-size="32" textLength="29.44" lengthAdjust="spacingAndGlyphs">25</text>
<text x="48.68" y="246.68" font-size="32" textLength="29.44" lengthAdjust="spacingAndGlyphs">30</text>
<text x="48.68" y="194.31" font-size="32" textLength="29.44" lengthAdjust="spacingAndGlyphs">35</text>
<text x="48.68" y="141.94" font-size="32" textLength="29.44" lengthAdjust="spacingAndGlyphs">40</text>
<text x="48.68" y="89.57" font-size="32" textLength="29.44" lengthAdjust="spacingAndGlyphs">45</text>
<text x="48.68" y="37.2" font-size="32" textLength="29.44" lengthAdjust="spacingAndGlyphs">50</text>
<text x="78.16" y="585.4" font-size="32" textLength="14.88" lengthAdjust="spacingAndGlyphs">0</text>
<text x="167.72" y="585.4" font-size="32" textLength="14.88" lengthAdjust="spacingAndGlyphs">2</text>
<text x="255.7" y="585.4" font-size="32" textLength="14.88" lengthAdjust="spacingAndGlyphs">4</text>
<text x="345.06" y="585.4" font-size="32" textLength="14.88" lengthAdjust="spacingAndGlyphs">6</text>
<text x="434.66" y="585.4" font-size="32" textLength="14.88" lengthAdjust="spacingAndGlyphs">8</text>
<text x="516.39" y="585.4" font-size="32" textLength="29.76" lengthAdjust="spacingAndGlyphs">10</text>
<text x="605.95" y="585.4" font-size="32" textLength="29.76" lengthAdjust="spacingAndGlyphs">12</text>
<text x="694.02" y="585.4" font-size="32" textLength="29.76" lengthAdjust="spacingAndGlyphs">14</text>
<text x="783.89" y="585.4" font-size="32" textLength="29.76" lengthAdjust="spacingAndGlyphs">16</text>
<text x="404.05" y="145" font-size="43" textLength="46.65" lengthAdjust="spacingAndGlyphs">(a)</text>
<text x="118.85" y="40.6" font-size="39" font-style="italic" textLength="21.92" lengthAdjust="spacingAndGlyphs">V</text>
<text x="144.85" y="29.8" font-size="28" textLength="28.25" lengthAdjust="spacingAndGlyphs">−2</text>
<text x="174.7" y="40.6" font-size="39">,</text>
<text x="195.28" y="40.8" font-size="39" textLength="23.98" lengthAdjust="spacingAndGlyphs">В</text>
<text x="218.97" y="29.8" font-size="28" textLength="27.81" lengthAdjust="spacingAndGlyphs">−2</text>
<text x="726.84" y="517.1" font-size="36" font-style="italic" textLength="10.82" lengthAdjust="spacingAndGlyphs">f</text>
<text x="747.47" y="506.9" font-size="26" textLength="11.96" lengthAdjust="spacingAndGlyphs">2</text>
<text x="762" y="517.1" font-size="36">,</text>
<text x="777.87" y="517.1" font-size="36" textLength="59.22" lengthAdjust="spacingAndGlyphs">кГц</text>
<text x="838.64" y="506.9" font-size="26" textLength="12.53" lengthAdjust="spacingAndGlyphs">2</text>
<text x="531.53" y="301.9" font-size="36" font-style="italic" textLength="12.96" lengthAdjust="spacingAndGlyphs">I</text>
<text x="544.4" y="309.4" font-size="26" font-style="italic" textLength="35.92" lengthAdjust="spacingAndGlyphs">PH</text>
<text x="449.91" y="360.7" font-size="35" font-style="italic" textLength="19.68" lengthAdjust="spacingAndGlyphs">A</text>
<text x="497.19" y="377" font-size="36" font-style="italic" textLength="22.09" lengthAdjust="spacingAndGlyphs">C</text>
<text x="520.77" y="365.5" font-size="24" textLength="11.16" lengthAdjust="spacingAndGlyphs">*</text>
<text x="689.84" y="398.8" font-size="36" font-style="italic" textLength="20.24" lengthAdjust="spacingAndGlyphs">R</text>
<text x="712.5" y="387.5" font-size="24">*</text>
<text x="738.14" y="313" font-size="35" font-style="italic" textLength="26.82" lengthAdjust="spacingAndGlyphs">M</text>
<text x="764.5" y="321.5" font-size="24">1</text>
<text x="843.26" y="352" font-size="36" textLength="59.89" lengthAdjust="spacingAndGlyphs"><tspan font-style="italic">V</tspan>(<tspan font-style="italic">f</tspan>)</text>
<text x="1141.2" y="120.8" font-size="35" font-style="italic" textLength="30.28" lengthAdjust="spacingAndGlyphs">M</text>
<text x="1170.1" y="129" font-size="24" textLength="29.57" lengthAdjust="spacingAndGlyphs">4.1</text>
<text x="1334.3" y="90" font-size="36" textLength="41.46" lengthAdjust="spacingAndGlyphs">1 к</text>
<text x="1476.29" y="173.5" font-size="36" textLength="78.41" lengthAdjust="spacingAndGlyphs">680 п</text>
<text x="1155.08" y="211" font-size="36" textLength="60" lengthAdjust="spacingAndGlyphs">24 к</text>
<text x="1123.65" y="299" font-size="36" textLength="73.81" lengthAdjust="spacingAndGlyphs">100 к</text>
<text x="1018.3" y="342.7" font-size="35" font-style="italic" textLength="23.08" lengthAdjust="spacingAndGlyphs">K</text>
<text x="1038.5" y="350.3" font-size="24">1</text>
<text x="1122.72" y="422.4" font-size="36" textLength="42.65" lengthAdjust="spacingAndGlyphs">1 к</text>
<text x="1134.18" y="518.2" font-size="36" textLength="39.29" lengthAdjust="spacingAndGlyphs">1.0</text>
<text x="1617.7" y="148.1" font-size="35" font-style="italic" textLength="28.5" lengthAdjust="spacingAndGlyphs">M</text>
<text x="1646.5" y="157" font-size="24" textLength="31.97" lengthAdjust="spacingAndGlyphs">4.2</text>
<text x="1790.35" y="100.3" font-size="34" font-style="italic" textLength="44.15" lengthAdjust="spacingAndGlyphs">GV</text>
<text x="1836.5" y="108" font-size="24">~</text>
<text x="1856.43" y="100.3" font-size="34" textLength="31.04" lengthAdjust="spacingAndGlyphs">(<tspan font-style="italic">t</tspan>)</text>
<text x="1868.5" y="149.6" font-size="36" font-style="italic" textLength="119.05" lengthAdjust="spacingAndGlyphs">Выход 2</text>
<text x="1631.64" y="238.6" font-size="36" textLength="68.64" lengthAdjust="spacingAndGlyphs">4.3 к</text>
<text x="1598.41" y="330.2" font-size="36" textLength="74.96" lengthAdjust="spacingAndGlyphs">100 к</text>
<text x="1495.2" y="347.2" font-size="35" font-style="italic" textLength="22.24" lengthAdjust="spacingAndGlyphs">K</text>
<text x="1515.57" y="355.6" font-size="24" textLength="12.96" lengthAdjust="spacingAndGlyphs">2</text>
<text x="1602.1" y="452.2" font-size="36" textLength="43.09" lengthAdjust="spacingAndGlyphs">1 к</text>
<text x="1609.29" y="544.1" font-size="36" textLength="40.61" lengthAdjust="spacingAndGlyphs">1.0</text>
<text x="254.87" y="645.4" font-size="36" textLength="42" lengthAdjust="spacingAndGlyphs">1 к</text>
<text x="415.55" y="645.4" font-size="36" textLength="57.92" lengthAdjust="spacingAndGlyphs">51 к</text>
<text x="404.24" y="793" font-size="35" font-style="italic" textLength="26.82" lengthAdjust="spacingAndGlyphs">M</text>
<text x="431.4" y="801.2" font-size="24">1</text>
<text x="84" y="797.3" font-size="36" font-style="italic" textLength="20.24" lengthAdjust="spacingAndGlyphs">A</text>
<text x="174.83" y="780.5" font-size="36" font-style="italic" textLength="12.96" lengthAdjust="spacingAndGlyphs">I</text>
<text x="188" y="788.3" font-size="25" font-style="italic" textLength="31.56" lengthAdjust="spacingAndGlyphs">PH</text>
<text x="244" y="786.5" font-size="36" font-style="italic" textLength="71.8" lengthAdjust="spacingAndGlyphs">Вход</text>
<text x="133.13" y="849" font-size="36" font-style="italic" textLength="22.49" lengthAdjust="spacingAndGlyphs">C</text>
<text x="157.02" y="856.8" font-size="25" font-style="italic" textLength="13.5" lengthAdjust="spacingAndGlyphs">S</text>
<text x="124.08" y="886.5" font-size="36" textLength="58.47" lengthAdjust="spacingAndGlyphs">71 п</text>
<text x="358.4" y="874.9" font-size="36" font-style="italic" textLength="20.32" lengthAdjust="spacingAndGlyphs">R</text>
<text x="381.83" y="882.6" font-size="25" font-style="italic" textLength="15.02" lengthAdjust="spacingAndGlyphs">L</text>
<text x="343.52" y="912.3" font-size="36" textLength="61.98" lengthAdjust="spacingAndGlyphs">20 к</text>
<text x="750.49" y="674.6" font-size="36" textLength="56.36" lengthAdjust="spacingAndGlyphs">10 к</text>
<text x="584.09" y="762.7" font-size="36" textLength="56.36" lengthAdjust="spacingAndGlyphs">10 к</text>
<text x="735.49" y="818.7" font-size="35" font-style="italic" textLength="26.82" lengthAdjust="spacingAndGlyphs">M</text>
<text x="761.74" y="827.7" font-size="24" textLength="31.78" lengthAdjust="spacingAndGlyphs">2.1</text>
<text x="890.85" y="784.6" font-size="36" textLength="69.55" lengthAdjust="spacingAndGlyphs">1.5 н</text>
<text x="902.49" y="890.4" font-size="36" font-style="italic" textLength="20.24" lengthAdjust="spacingAndGlyphs">R</text>
<text x="922.67" y="897.8" font-size="24" textLength="12.96" lengthAdjust="spacingAndGlyphs">0</text>
<text x="885.59" y="934" font-size="36" textLength="72.66" lengthAdjust="spacingAndGlyphs">100 к</text>
<text x="1002.79" y="912.8" font-size="36" textLength="56.36" lengthAdjust="spacingAndGlyphs">10 к</text>
<text x="760.95" y="921" font-size="36" font-style="italic" textLength="22.27" lengthAdjust="spacingAndGlyphs">C</text>
<text x="783" y="928.6" font-size="24">0</text>
<text x="759.14" y="961.9" font-size="36" textLength="38.57" lengthAdjust="spacingAndGlyphs">0.1</text>
<text x="572.96" y="1081.6" font-size="36" textLength="73.39" lengthAdjust="spacingAndGlyphs">100 к</text>
<text x="554.71" y="1161.4" font-size="36" textLength="38.85" lengthAdjust="spacingAndGlyphs">1.5</text>
<text x="769.3" y="1106.9" font-size="35" font-style="italic" textLength="27.93" lengthAdjust="spacingAndGlyphs">M</text>
<text x="796.79" y="1115.8" font-size="24" textLength="33.32" lengthAdjust="spacingAndGlyphs">2.2</text>
<text x="884.55" y="1201.9" font-size="36" textLength="73.91" lengthAdjust="spacingAndGlyphs">100 к</text>
<text x="157.82" y="1094.2" font-size="36" font-style="italic" textLength="20.66" lengthAdjust="spacingAndGlyphs">V</text>
<text x="28.8" y="1142.3" font-size="36" font-style="italic" textLength="119.13" lengthAdjust="spacingAndGlyphs">Выход 1</text>
<text x="348.2" y="1135.1" font-size="35" font-style="italic" textLength="28.03" lengthAdjust="spacingAndGlyphs">M</text>
<text x="376.57" y="1144.3" font-size="24" textLength="12.96" lengthAdjust="spacingAndGlyphs">3</text>
<text x="323.82" y="1232.1" font-size="36" textLength="57.94" lengthAdjust="spacingAndGlyphs">10 к</text>
<text x="457.62" y="1343.2" font-size="36" textLength="57.94" lengthAdjust="spacingAndGlyphs">10 к</text>
<text x="1115.3" y="1341" font-size="32" textLength="14.72" lengthAdjust="spacingAndGlyphs">0</text>
<text x="1094.14" y="1282.1" font-size="32" textLength="36.8" lengthAdjust="spacingAndGlyphs">0.1</text>
<text x="1094.14" y="1223.2" font-size="32" textLength="36.8" lengthAdjust="spacingAndGlyphs">0.2</text>
<text x="1093.22" y="1164.3" font-size="32" textLength="36.8" lengthAdjust="spacingAndGlyphs">0.3</text>
<text x="1092.3" y="1105.4" font-size="32" textLength="36.8" lengthAdjust="spacingAndGlyphs">0.4</text>
<text x="1093.22" y="1046.5" font-size="32" textLength="36.8" lengthAdjust="spacingAndGlyphs">0.5</text>
<text x="1093.22" y="987.6" font-size="32" textLength="36.8" lengthAdjust="spacingAndGlyphs">0.6</text>
<text x="1093.22" y="928.7" font-size="32" textLength="36.8" lengthAdjust="spacingAndGlyphs">0.7</text>
<text x="1093.22" y="869.8" font-size="32" textLength="36.8" lengthAdjust="spacingAndGlyphs">0.8</text>
<text x="1093.22" y="810.9" font-size="32" textLength="36.8" lengthAdjust="spacingAndGlyphs">0.9</text>
<text x="1116.22" y="752" font-size="32" textLength="14.72" lengthAdjust="spacingAndGlyphs">1</text>
<text x="1983.57" y="752.7" font-size="32" textLength="14.88" lengthAdjust="spacingAndGlyphs">2</text>
<text x="1983.57" y="826.34" font-size="32" textLength="14.88" lengthAdjust="spacingAndGlyphs">0</text>
<text x="1982.04" y="900.18" font-size="32" textLength="31.66" lengthAdjust="spacingAndGlyphs">−2</text>
<text x="1982.04" y="973.82" font-size="32" textLength="31.66" lengthAdjust="spacingAndGlyphs">−4</text>
<text x="1982.04" y="1047.46" font-size="32" textLength="31.66" lengthAdjust="spacingAndGlyphs">−6</text>
<text x="1982.04" y="1121.1" font-size="32" textLength="31.66" lengthAdjust="spacingAndGlyphs">−8</text>
<text x="1982.04" y="1194.74" font-size="32" textLength="46.54" lengthAdjust="spacingAndGlyphs">−10</text>
<text x="1982.04" y="1268.38" font-size="32" textLength="46.54" lengthAdjust="spacingAndGlyphs">−12</text>
<text x="1982.04" y="1342.02" font-size="32" textLength="46.54" lengthAdjust="spacingAndGlyphs">−14</text>
<text x="1128.69" y="1371" font-size="31" textLength="45.1" lengthAdjust="spacingAndGlyphs">400</text>
<text x="1211.59" y="1371" font-size="31" textLength="45.1" lengthAdjust="spacingAndGlyphs">440</text>
<text x="1293.79" y="1371" font-size="31" textLength="45.1" lengthAdjust="spacingAndGlyphs">480</text>
<text x="1376.4" y="1371" font-size="31" textLength="45.1" lengthAdjust="spacingAndGlyphs">520</text>
<text x="1458.9" y="1371" font-size="31" textLength="45.1" lengthAdjust="spacingAndGlyphs">560</text>
<text x="1542.69" y="1371" font-size="31" textLength="45.1" lengthAdjust="spacingAndGlyphs">600</text>
<text x="1624.79" y="1371" font-size="31" textLength="45.1" lengthAdjust="spacingAndGlyphs">640</text>
<text x="1707.69" y="1371" font-size="31" textLength="45.1" lengthAdjust="spacingAndGlyphs">680</text>
<text x="1789.7" y="1371" font-size="31" textLength="45.1" lengthAdjust="spacingAndGlyphs">720</text>
<text x="1872.7" y="1371" font-size="31" textLength="45.1" lengthAdjust="spacingAndGlyphs">760</text>
<text x="1955.59" y="1371" font-size="31" textLength="45.1" lengthAdjust="spacingAndGlyphs">800</text>
<text x="1544.17" y="1415" font-size="35" textLength="15.82" lengthAdjust="spacingAndGlyphs">λ</text>
<text x="1561.9" y="1415" font-size="35">,</text>
<text x="1577.34" y="1415" font-size="35" textLength="43.51" lengthAdjust="spacingAndGlyphs">нм</text>
<text x="1462.23" y="740.7" font-size="43" textLength="49.67" lengthAdjust="spacingAndGlyphs">(б)</text>
<text x="1118.13" y="708.6" font-size="35" font-style="italic" textLength="19.68" lengthAdjust="spacingAndGlyphs">V</text>
<text x="1161" y="708.6" font-size="32">,</text>
<text x="1170.63" y="708.6" font-size="35" font-style="italic" textLength="19.68" lengthAdjust="spacingAndGlyphs">V</text>
<text x="1189.56" y="717.6" font-size="22" textLength="11.88" lengthAdjust="spacingAndGlyphs">2</text>
<text x="1201.28" y="714.9" font-size="22" font-style="italic" textLength="6.62" lengthAdjust="spacingAndGlyphs">f</text>
<text x="1214.8" y="708.6" font-size="32">,</text>
<text x="1231.08" y="709.2" font-size="32" textLength="61.25" lengthAdjust="spacingAndGlyphs">отн.</text>
<text x="1303.51" y="709.2" font-size="32" textLength="41.32" lengthAdjust="spacingAndGlyphs">ед.</text>
<text x="1921.98" y="708.8" font-size="35" textLength="22.97" lengthAdjust="spacingAndGlyphs">Δ</text>
<text x="1945" y="717.3" font-size="25" font-style="italic" textLength="38.17" lengthAdjust="spacingAndGlyphs">dev</text>
<text x="1981.8" y="709.6" font-size="32">,</text>
<text x="1998.22" y="705.1" font-size="32" font-style="italic" textLength="26.42" lengthAdjust="spacingAndGlyphs">%</text>
<text x="1432.7" y="1082" font-size="34" font-style="italic" textLength="71.14" lengthAdjust="spacingAndGlyphs">PEM</text>
<text x="1365.2" y="1129" font-size="34" font-style="italic">CH</text>
<text x="1423.5" y="1217.9" font-size="34" font-style="italic">P</text>
<text x="1494.36" y="1217.9" font-size="34" font-style="italic" textLength="19.12" lengthAdjust="spacingAndGlyphs">A</text>
<text x="1541.2" y="1161.2" font-size="35" font-style="italic" textLength="64.44" lengthAdjust="spacingAndGlyphs">PHD</text>
<text x="1591.7" y="1115.3" font-size="34" font-style="italic">I</text>
<text x="1603.5" y="1123.1" font-size="24" font-style="italic" textLength="32.19" lengthAdjust="spacingAndGlyphs">PH</text>
<text x="1636.68" y="1115.3" font-size="34" textLength="67.16" lengthAdjust="spacingAndGlyphs">(<tspan font-style="italic">t</tspan>, λ)</text>
<text x="1748.1" y="1133.5" font-size="35" font-style="italic" textLength="27.65" lengthAdjust="spacingAndGlyphs">M</text>
<text x="1776.33" y="1142" font-size="24" textLength="11.04" lengthAdjust="spacingAndGlyphs">1</text>
<text x="1594.65" y="1246.3" font-size="34" font-style="italic" textLength="22.15" lengthAdjust="spacingAndGlyphs">C</text>
<text x="1618.46" y="1255" font-size="24" font-style="italic" textLength="12.96" lengthAdjust="spacingAndGlyphs">S</text>
<text x="1731.9" y="1248.2" font-size="34" font-style="italic" textLength="19.12" lengthAdjust="spacingAndGlyphs">R</text>
<text x="1753.88" y="1237.8" font-size="24" textLength="11.04" lengthAdjust="spacingAndGlyphs">*</text>
<text x="1835.07" y="1173.6" font-size="34" textLength="87.73" lengthAdjust="spacingAndGlyphs"><tspan font-style="italic">V</tspan>(<tspan font-style="italic">t</tspan>, λ)</text>
</g>
</svg></body></html>
